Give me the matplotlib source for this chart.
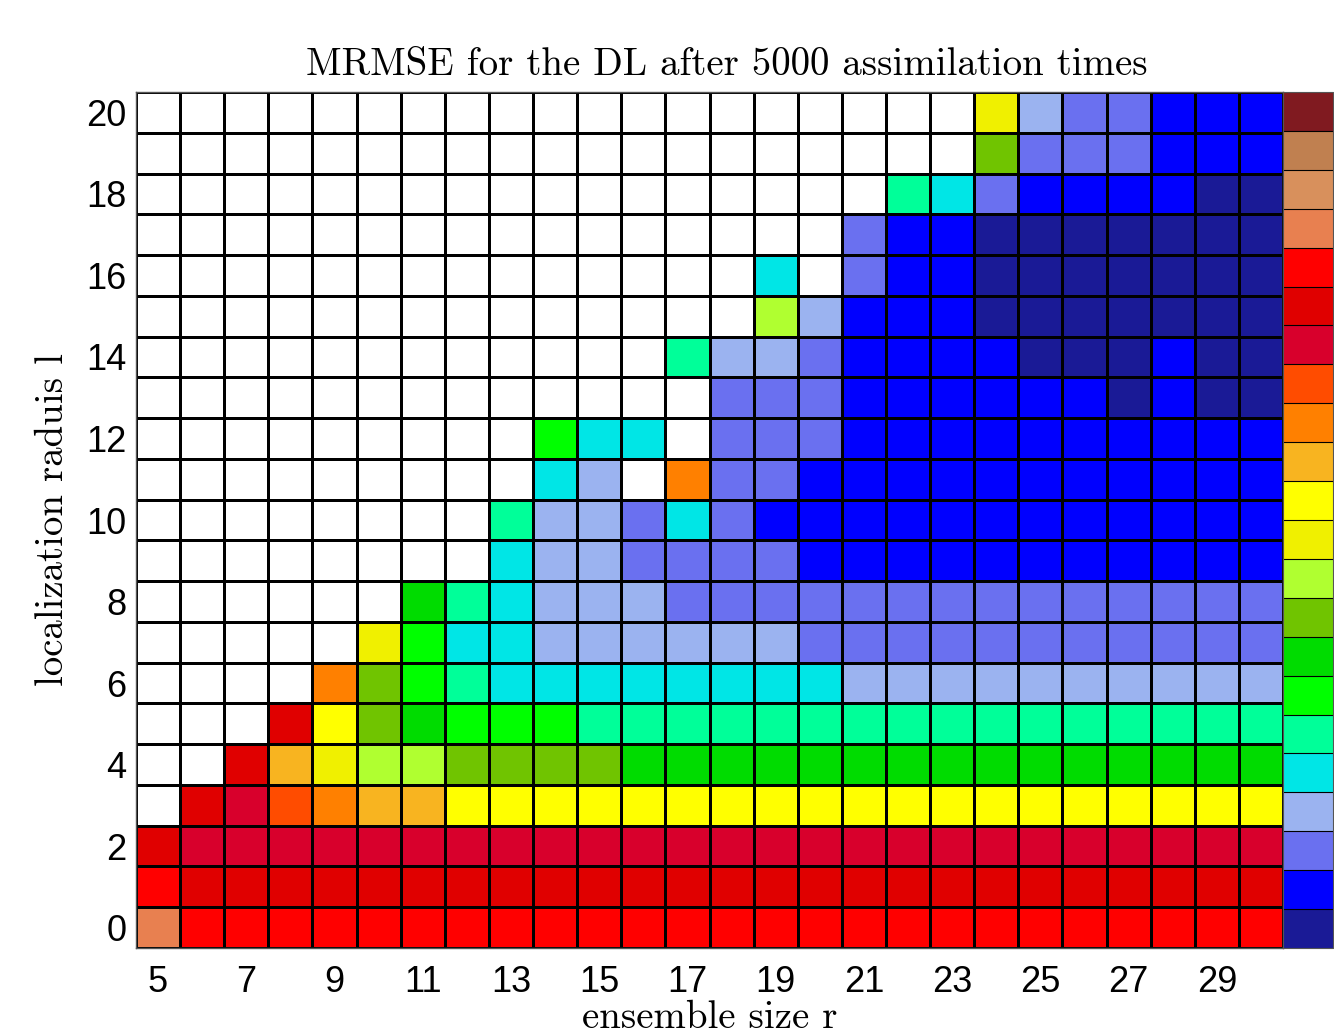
import numpy as np
import matplotlib
matplotlib.use("Agg")
import matplotlib.pyplot as plt
from matplotlib.colors import ListedColormap, BoundaryNorm

# ensemble sizes (columns) and localization radii (rows)
ensemble_sizes = list(range(5, 31))
loc_radii = list(range(0, 21))

# 22 discrete colour classes, lowest (best) first
level_colors = [
    "#1a1a96", "#0000ff", "#6a70f0", "#9bb3f0", "#00e6e6", "#00ff99",
    "#00ff00", "#00dc00", "#70c400", "#b0ff30", "#f0f000", "#ffff00",
    "#f8b420", "#ff8000", "#ff4c00", "#d8002c", "#e00000", "#ff0000",
    "#e88050", "#d8905c", "#c08050", "#801a20",
]

_ = None  # no value (diverged / not computed)
# MRMSE colour class per cell; one list per radius l, entries for r = 5..30
row_l0  = [18] + [17] * 25
row_l1  = [17] + [16] * 25
row_l2  = [16] + [15] * 25
row_l3  = [_, 16, 15, 14, 13, 12, 12] + [11] * 19
row_l4  = [_, _, 16, 12, 10, 9, 9, 8, 8, 8, 8] + [7] * 15
row_l5  = [_, _, _, 16, 11, 8, 7, 6, 6, 6] + [5] * 16
row_l6  = [_, _, _, _, 13, 8, 6, 5] + [4] * 8 + [3] * 10
row_l7  = [_, _, _, _, _, 10, 6, 4, 4] + [3] * 6 + [2] * 11
row_l8  = [_, _, _, _, _, _, 7, 5, 4, 3, 3, 3] + [2] * 14
row_l9  = [_] * 8 + [4, 3, 3, 2, 2, 2, 2] + [1] * 11
row_l10 = [_] * 8 + [5, 3, 3, 2, 4, 2] + [1] * 12
row_l11 = [_] * 9 + [4, 3, _, 13, 2, 2] + [1] * 11
row_l12 = [_] * 9 + [6, 4, 4, _, 2, 2, 2] + [1] * 10
row_l13 = [_] * 13 + [2, 2, 2, 1, 1, 1, 1, 1, 1, 0, 1, 0, 0]
row_l14 = [_] * 12 + [5, 3, 3, 2, 1, 1, 1, 1, 0, 0, 0, 1, 0, 0]
row_l15 = [_] * 14 + [9, 3, 1, 1, 1] + [0] * 7
row_l16 = [_] * 14 + [4, _, 2, 1, 1] + [0] * 7
row_l17 = [_] * 16 + [2, 1, 1] + [0] * 7
row_l18 = [_] * 17 + [5, 4, 2, 1, 1, 1, 1, 0, 0]
row_l19 = [_] * 19 + [8, 2, 2, 2, 1, 1, 1]
row_l20 = [_] * 19 + [10, 3, 2, 2, 1, 1, 1]

rows = [row_l0, row_l1, row_l2, row_l3, row_l4, row_l5, row_l6, row_l7,
        row_l8, row_l9, row_l10, row_l11, row_l12, row_l13, row_l14,
        row_l15, row_l16, row_l17, row_l18, row_l19, row_l20]

Z = np.array([[np.nan if v is None else v for v in r] for r in rows], dtype=float)
Z = np.ma.masked_invalid(Z)

cmap = ListedColormap(level_colors)
cmap.set_bad("white")
norm = BoundaryNorm(np.arange(-0.5, len(level_colors) + 0.5, 1), cmap.N)

W, H = 1334, 1036
fig = plt.figure(figsize=(W / 100, H / 100), dpi=100)
ax = fig.add_axes([136 / W, 1 - 948 / H, (1283 - 136) / W, (948 - 92) / H])
cax = fig.add_axes([1283 / W, 1 - 948 / H, (1333 - 1283) / W, (948 - 92) / H])

xe = np.arange(ensemble_sizes[0] - 0.5, ensemble_sizes[-1] + 1.0, 1)
ye = np.arange(loc_radii[0] - 0.5, loc_radii[-1] + 1.0, 1)
mesh = ax.pcolormesh(xe, ye, Z, cmap=cmap, norm=norm,
                     edgecolors="black", linewidth=0.8)
ax.set_xlim(xe[0], xe[-1])
ax.set_ylim(ye[0], ye[-1])

tick_font = dict(family=["Liberation Sans", "DejaVu Sans"], size=26)
ax.set_xticks(ensemble_sizes[::2])
ax.set_xticklabels([str(v) for v in ensemble_sizes[::2]], **tick_font)
ax.set_yticks(loc_radii[::2])
ax.set_yticklabels([str(v) for v in loc_radii[::2]], **tick_font)
ax.tick_params(axis="both", length=0)
ax.tick_params(axis="x", pad=12)
ax.tick_params(axis="y", pad=7)
for s in ax.spines.values():
    s.set_color("#555555")
    s.set_linewidth(1.0)

serif = dict(family=["cmr10", "DejaVu Serif"], size=28)
ax.set_title("MRMSE for the DL after 5000 assimilation times", pad=12,
             x=0.515, **serif)
ax.set_xlabel("ensemble size r", labelpad=0, **serif)
ax.set_ylabel("localization raduis l", labelpad=11, **serif)

cb = fig.colorbar(mesh, cax=cax, drawedges=True)
cb.set_ticks([])
cb.dividers.set_color("black")
cb.dividers.set_linewidth(0.8)
cb.outline.set_edgecolor("#555555")

fig.savefig("out.png", dpi=100)
